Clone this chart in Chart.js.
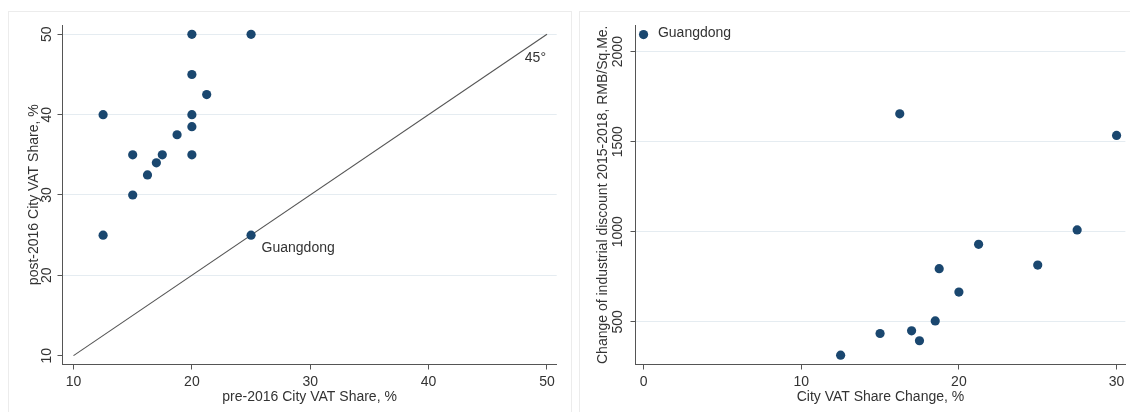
<!DOCTYPE html>
<html>
<head>
<meta charset="utf-8">
<script src="https://cdn.jsdelivr.net/npm/chart.js@4.4.1/dist/chart.umd.min.js"></script>
<style>
body { margin: 0; background: #fff; width: 1130px; height: 412px; overflow: hidden; position: relative; }
.frame { position: absolute; border: 1px solid #ececec; }
canvas { position: absolute; top: 0; }
</style>
</head>
<body>
<div class="frame" style="left:8px;top:11px;width:562px;height:420px"></div>
<div class="frame" style="left:579px;top:11px;width:600px;height:420px"></div>
<canvas id="left" width="571" height="412" style="left:0"></canvas>
<canvas id="right" width="559" height="412" style="left:571px"></canvas>
<script>
const NAVY = "#1a476f";
const FONT = '"Liberation Sans", Arial, sans-serif';

// left panel: city VAT share before / after 2016 (last point = Guangdong)
const preShare = [20, 25, 20, 21.25, 12.5, 20, 20, 18.75, 15, 17.5, 20, 17, 16.25, 15, 12.5, 25];
const postShare = [50, 50, 45, 42.5, 40, 40, 38.5, 37.5, 35, 35, 35, 34, 32.5, 30, 25, 25];
const diagonal = [10, 50];
const leftTicks = [10, 20, 30, 40, 50];

// right panel: share change vs industrial discount change (first point = Guangdong)
const shareChange = [0, 16.25, 30, 27.5, 21.25, 25, 18.75, 20, 18.5, 15, 17, 17.5, 12.5];
const discountChange = [2095, 1655, 1535, 1010, 930, 815, 795, 665, 505, 435, 450, 395, 315];
const rightTicksX = [0, 10, 20, 30];
const rightTicksY = [500, 1000, 1500, 2000];

function toPoints(xs, ys) {
    return xs.map((x, i) => ({ x: x, y: ys[i] }));
}

// stata style text: rotated y labels, titles, marker labels
const stataText = {
    id: "stataText",
    afterDraw(chart, args, opts) {
        const ctx = chart.ctx;
        const xs = chart.scales.x, ys = chart.scales.y, area = chart.chartArea;
        ctx.save();
        ctx.fillStyle = "#333";
        ctx.font = "14px " + FONT;
        ctx.textAlign = "center";
        ctx.textBaseline = "middle";
        ys.ticks.forEach(t => {
            ctx.save();
            ctx.translate(opts.yLabelX, ys.getPixelForValue(t.value));
            ctx.rotate(-Math.PI / 2);
            ctx.fillText(String(t.value), 0, 0);
            ctx.restore();
        });
        ctx.save();
        ctx.translate(opts.yTitleX, (area.top + area.bottom) / 2);
        ctx.rotate(-Math.PI / 2);
        ctx.fillText(opts.yTitle, 0, 0);
        ctx.restore();
        ctx.fillText(opts.xTitle, (area.left + area.right) / 2, opts.xTitleY);
        (opts.notes || []).forEach(n => {
            ctx.textAlign = n.align;
            ctx.fillText(n.text, xs.getPixelForValue(n.x) + n.dx, ys.getPixelForValue(n.y) + n.dy);
        });
        ctx.restore();
    }
};

function axes(xMin, xMax, xTicks, yMin, yMax, yTicks, skipGrid) {
    return {
        x: {
            type: "linear", min: xMin, max: xMax,
            afterBuildTicks: s => { s.ticks = xTicks.map(v => ({ value: v })); },
            afterFit: s => { s.height = 47.5; },
            grid: { drawOnChartArea: false, tickLength: 5, tickColor: "#555" },
            border: { color: "#555", width: 1 },
            ticks: {
                color: "#333", font: { family: FONT, size: 14 }, padding: 4,
                maxRotation: 0, autoSkip: false, callback: v => String(v)
            }
        },
        y: {
            type: "linear", min: yMin, max: yMax,
            afterBuildTicks: s => { s.ticks = yTicks.map(v => ({ value: v })); },
            afterFit: s => { s.width = 62.5; },
            grid: {
                tickLength: 5, tickColor: "#555",
                color: c => (skipGrid.includes(c.tick && c.tick.value) ? "rgba(0,0,0,0)" : "#e5ecf1")
            },
            border: { color: "#555", width: 1 },
            ticks: { display: false }
        }
    };
}

new Chart(document.getElementById("left"), {
    type: "scatter",
    data: {
        datasets: [
            {
                data: toPoints(preShare, postShare),
                backgroundColor: NAVY, borderColor: NAVY, pointRadius: 4.6, borderWidth: 0
            },
            {
                data: toPoints(diagonal, diagonal),
                showLine: true, borderColor: "#555", borderWidth: 1.1, pointRadius: 0
            }
        ]
    },
    options: {
        responsive: false, animation: false, devicePixelRatio: 1,
        layout: { padding: { left: 0, right: 14.3, top: 25, bottom: 0 } },
        scales: axes(9.07, 50.82, leftTicks, 8.9, 51.16, leftTicks, [10]),
        plugins: {
            legend: { display: false }, tooltip: { enabled: false },
            stataText: {
                yLabelX: 47, yTitleX: 34, xTitleY: 397,
                yTitle: "post-2016 City VAT Share, %",
                xTitle: "pre-2016 City VAT Share, %",
                notes: [
                    { text: "45°", x: 50, y: 47, dx: -1, dy: 0, align: "right" },
                    { text: "Guangdong", x: 25, y: 25, dx: 10.5, dy: 13, align: "left" }
                ]
            }
        }
    },
    plugins: [stataText]
});

new Chart(document.getElementById("right"), {
    type: "scatter",
    data: {
        datasets: [
            {
                data: toPoints(shareChange, discountChange),
                backgroundColor: NAVY, borderColor: NAVY, pointRadius: 4.6, borderWidth: 0
            }
        ]
    },
    options: {
        responsive: false, animation: false, devicePixelRatio: 1,
        layout: { padding: { left: 2, right: 3, top: 25, bottom: 0 } },
        scales: axes(-0.51, 30.56, rightTicksX, 263, 2148, rightTicksY, []),
        plugins: {
            legend: { display: false }, tooltip: { enabled: false },
            stataText: {
                yLabelX: 47, yTitleX: 32, xTitleY: 397,
                yTitle: "Change of industrial discount 2015-2018, RMB/Sq.Me.",
                xTitle: "City VAT Share Change, %",
                notes: [
                    { text: "Guangdong", x: 0, y: 2096, dx: 14.4, dy: -1.3, align: "left" }
                ]
            }
        }
    },
    plugins: [stataText]
});
</script>
</body>
</html>
